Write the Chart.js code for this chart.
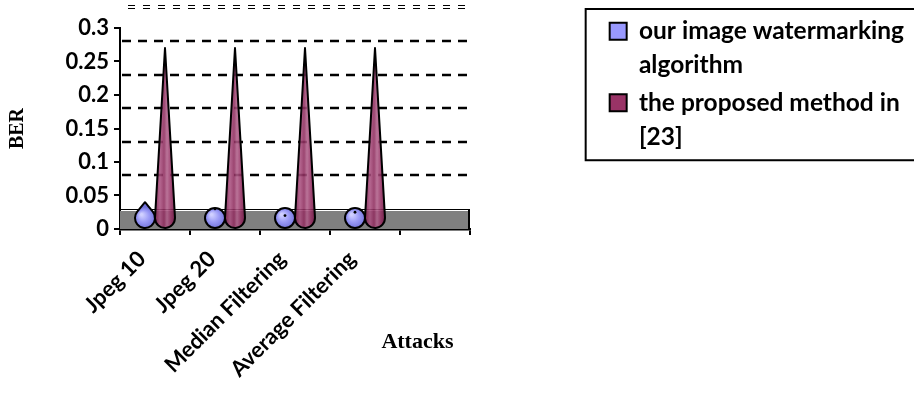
<!DOCTYPE html>
<html>
<head>
<meta charset="utf-8">
<script src="https://cdn.jsdelivr.net/npm/chart.js@4.4.1/dist/chart.umd.min.js"></script>
<style>
  html, body { margin: 0; padding: 0; background: #fff; }
</style>
</head>
<body>
<canvas id="berChart" width="914" height="400"></canvas>
<script>
const attacks = ["Jpeg 10", "Jpeg 20", "Median Filtering", "Average Filtering", ""];
const ourBer = [0.04, 0.03, 0.02, 0.025, null];
const refBer = [0.27, 0.27, 0.27, 0.27, null];
const seriesNames = [["our image watermarking", "algorithm"], ["the proposed method in", "[23]"]];
const berTicks = [0, 0.05, 0.1, 0.15, 0.2, 0.25, 0.3];

// 3D look of the old excel chart: back wall grid sits a bit lower, grey floor
const depth = 13;
const floorH = 20;

const conePaint = [
    { solid: "#9999FF", alpha: 1, radial: ["#d0d0ff", "#9a9af6", "#7070d8"] },
    { solid: "#993366", alpha: 0.88, stops: [[0, "#7a1c4b"], [0.25, "#a9507f"], [0.45, "#8e2c5d"], [0.6, "#b0608a"], [0.8, "#952f62"], [1, "#701845"]] }
];

function drawCone(ctx, cx, tipY, baseY, r, paint) {
    const cy = baseY - r;
    const d = cy - tipY;
    let fill;
    if (paint.radial) {
        fill = ctx.createRadialGradient(cx - r * 0.35, cy - r * 0.35, 1, cx, cy, r * 1.1);
        fill.addColorStop(0, paint.radial[0]);
        fill.addColorStop(0.5, paint.radial[1]);
        fill.addColorStop(1, paint.radial[2]);
    } else {
        fill = ctx.createLinearGradient(cx - r, 0, cx + r, 0);
        paint.stops.forEach(s => fill.addColorStop(s[0], s[1]));
    }
    ctx.beginPath();
    if (d > r + 0.5) {
        const a = Math.acos(r / d);
        ctx.moveTo(cx, tipY);
        ctx.arc(cx, cy, r, -Math.PI / 2 + a, 3 * Math.PI / 2 - a);
        ctx.closePath();
    } else {
        ctx.arc(cx, cy, r, 0, Math.PI * 2);
    }
    ctx.globalAlpha = paint.alpha;
    ctx.fillStyle = fill;
    ctx.fill();
    ctx.globalAlpha = 1;
    ctx.lineWidth = 2;
    ctx.lineJoin = "round";
    ctx.strokeStyle = "#000";
    ctx.stroke();
    if (d <= r + 0.5 && d < 2 * r - 2) {
        ctx.beginPath();
        ctx.arc(cx, tipY, 1.4, 0, Math.PI * 2);
        ctx.fillStyle = "#000";
        ctx.fill();
    }
}

const conePlugin = {
    id: "cones",
    beforeDatasetsDraw(chart) {
        const { ctx, chartArea: a, scales: { y } } = chart;
        const zero = y.getPixelForValue(0);
        const floorTop = zero - floorH;
        ctx.save();
        ctx.strokeStyle = "#000";
        ctx.lineWidth = 2.5;
        ctx.setLineDash([9, 7]);
        y.ticks.forEach(t => {
            const py = Math.round(y.getPixelForValue(t.value) + depth);
            if (py < floorTop - 3) {
                ctx.beginPath();
                ctx.moveTo(a.left + 2, py);
                ctx.lineTo(a.right, py);
                ctx.stroke();
            }
        });
        // top edge of the back wall
        const step = berTicks[1] - berTicks[0];
        const wallTop = Math.round(y.getPixelForValue(y.max + step) + depth);
        ctx.lineWidth = 1;
        ctx.setLineDash([7, 8]);
        [wallTop - 1.5, wallTop + 1.5].forEach(py => {
            ctx.beginPath();
            ctx.moveTo(a.left + 8, py);
            ctx.lineTo(a.right, py);
            ctx.stroke();
        });
        ctx.setLineDash([]);
        // floor
        ctx.fillStyle = "#808080";
        ctx.fillRect(a.left, floorTop + 2, a.right - a.left, zero - floorTop - 2);
        ctx.lineWidth = 1;
        ctx.beginPath();
        ctx.moveTo(a.left, floorTop + 0.5);
        ctx.lineTo(a.right, floorTop + 0.5);
        ctx.stroke();
        ctx.lineWidth = 2;
        ctx.beginPath();
        ctx.moveTo(a.right - 1, floorTop);
        ctx.lineTo(a.right - 1, zero);
        ctx.stroke();
        ctx.restore();
    },
    beforeDatasetDraw() {
        return false;
    },
    afterDatasetsDraw(chart) {
        const ctx = chart.ctx;
        ctx.save();
        chart.data.datasets.forEach((ds, di) => {
            const meta = chart.getDatasetMeta(di);
            meta.data.forEach((bar, i) => {
                if (ds.data[i] == null) return;
                const p = bar.getProps(["x", "y", "base", "width"], true);
                drawCone(ctx, p.x, p.y, p.base, p.width / 2, conePaint[di]);
            });
        });
        ctx.restore();
    },
    afterDraw(chart) {
        // frame around the legend, right side runs off the picture
        const lg = chart.legend;
        const hb = lg.legendHitBoxes;
        if (!hb || !hb.length) return;
        const lh = Chart.helpers.toFont(lg.options.labels.font).lineHeight;
        const last = hb[hb.length - 1];
        const nLines = lg.legendItems[hb.length - 1].text.length;
        const ctx = chart.ctx;
        const left = hb[0].left - 24;
        const top = lg.top - 6;
        const bottom = last.top + nLines * lh + 2;
        ctx.save();
        ctx.strokeStyle = "#000";
        ctx.lineWidth = 2;
        ctx.strokeRect(left, top, chart.width + 10 - left, bottom - top);
        ctx.restore();
    }
};

Chart.defaults.font.family = "Lato";
Chart.defaults.font.weight = "bold";
Chart.defaults.color = "#000";

new Chart(document.getElementById("berChart"), {
    type: "bar",
    data: {
        labels: attacks,
        datasets: [
            { label: seriesNames[0], data: ourBer, backgroundColor: conePaint[0].solid, borderColor: "#000", borderWidth: 2 },
            { label: seriesNames[1], data: refBer, backgroundColor: conePaint[1].solid, borderColor: "#000", borderWidth: 2 }
        ]
    },
    options: {
        responsive: false,
        animation: false,
        categoryPercentage: 40 / 70,
        barPercentage: 1,
        layout: { padding: { top: 15, left: 0, right: 0, bottom: 0 } },
        scales: {
            x: {
                offset: true,
                grid: { offset: true, drawOnChartArea: false, drawTicks: true, tickLength: 6, color: "#000", lineWidth: 2 },
                border: { display: true, color: "#000", width: 2.5 },
                ticks: { autoSkip: false, minRotation: 45, maxRotation: 45, padding: 11, labelOffset: -13, font: { size: 22 } },
                title: { display: true, text: "Attacks   ", align: "end", font: { family: "Liberation Serif", size: 22, weight: "bold" }, padding: { top: 0, bottom: 44 } },
                afterFit: s => { s.height = 171; }
            },
            xTop: {
                position: "top",
                display: true,
                grid: { display: false },
                border: { display: false },
                ticks: { display: false },
                afterFit: s => { s.height = 13; }
            },
            y: {
                min: 0,
                max: 0.3,
                afterBuildTicks: s => { s.ticks = berTicks.map(v => ({ value: v })); },
                grid: { drawOnChartArea: false, drawTicks: true, tickLength: 6, color: "#000", lineWidth: 2 },
                border: { display: true, color: "#000", width: 2 },
                ticks: { padding: 5, font: { size: 22 }, callback: v => String(v) },
                title: { display: true, text: "BER", font: { family: "Liberation Serif", size: 20, weight: "bold" }, padding: { top: 6, bottom: 0 } },
                afterFit: s => { s.width = 120; }
            },
            yGap: {
                position: "right",
                display: true,
                grid: { display: false },
                border: { display: false },
                ticks: { display: false },
                afterFit: s => { s.width = s.chart.width - s.chart.legend.width - 470; }
            }
        },
        plugins: {
            legend: {
                position: "right",
                align: "start",
                maxWidth: 312,
                labels: { boxWidth: 17, boxHeight: 17, padding: 4, font: { size: 24.5, weight: "bold", lineHeight: 1.38 } }
            },
            tooltip: { enabled: false }
        }
    },
    plugins: [conePlugin]
});
</script>
</body>
</html>
